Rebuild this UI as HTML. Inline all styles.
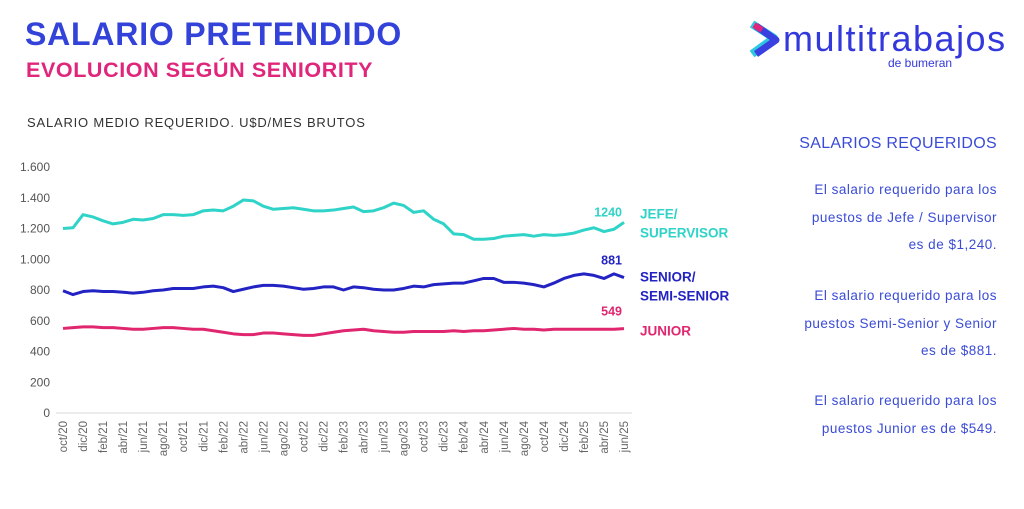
<!DOCTYPE html>
<html><head><meta charset="utf-8"><style>
body{margin:0;width:1024px;height:509px;background:#fff;overflow:hidden;font-family:"Liberation Sans",sans-serif;position:relative}
.abs{position:absolute}
.rp{position:absolute;right:27px;text-align:right;color:#3a4bd6;font-size:13.5px;line-height:27.5px;letter-spacing:0.5px;white-space:nowrap}
</style></head><body>
<div class="abs" style="left:25px;top:16px;font-size:32px;font-weight:bold;color:#3342d9;letter-spacing:0.8px">SALARIO PRETENDIDO</div>
<div class="abs" style="left:26px;top:58px;font-size:21.5px;font-weight:bold;color:#e0267a;letter-spacing:0.6px">EVOLUCION SEGÚN SENIORITY</div>
<div class="abs" style="left:27px;top:115px;font-size:13px;color:#333;letter-spacing:0.8px">SALARIO MEDIO REQUERIDO. U$D/MES BRUTOS</div>
<div class="abs" style="left:748px;top:14px;height:60px;width:276px">
<svg width="34" height="40" style="position:absolute;left:0;top:6px"><path d="M4 4 L26 18 L4 34" fill="none" stroke="#2ec9e0" stroke-width="8" stroke-linejoin="round"/><path d="M8 6 L28 20 L8 34" fill="none" stroke="#3a3fe0" stroke-width="7" stroke-linejoin="round"/><path d="M6 5 L14 10" stroke="#e0267a" stroke-width="6"/></svg>
<div style="position:absolute;left:35px;top:4px;font-size:36px;color:#3338dc;letter-spacing:1.5px">multitrabajos</div>
<div style="position:absolute;left:140px;top:42px;font-size:12px;color:#3338dc">de bumeran</div>
</div>
<div class="abs" style="right:27px;top:135px;font-size:16px;color:#3a4bd6;letter-spacing:0.3px">SALARIOS REQUERIDOS</div>
<div class="rp" style="top:176px">El salario requerido para los<br>puestos de Jefe / Supervisor<br>es de $1,240.</div>
<div class="rp" style="top:282px">El salario requerido para los<br>puestos Semi-Senior y Senior<br>es de $881.</div>
<div class="rp" style="top:387px">El salario requerido para los<br>puestos Junior es de $549.</div>
<svg id="chart" class="abs" style="left:0;top:0" width="780" height="509"></svg>
<script>
const months=["oct/20","nov/20","dic/20","ene/21","feb/21","mar/21","abr/21","may/21","jun/21","jul/21","ago/21","sep/21","oct/21","nov/21","dic/21","ene/22","feb/22","mar/22","abr/22","may/22","jun/22","jul/22","ago/22","sep/22","oct/22","nov/22","dic/22","ene/23","feb/23","mar/23","abr/23","may/23","jun/23","jul/23","ago/23","sep/23","oct/23","nov/23","dic/23","ene/24","feb/24","mar/24","abr/24","may/24","jun/24","jul/24","ago/24","sep/24","oct/24","nov/24","dic/24","ene/25","feb/25","mar/25","abr/25","may/25","jun/25"];
const jefe=[1200,1205,1290,1275,1250,1230,1240,1260,1255,1265,1290,1290,1285,1290,1315,1320,1315,1345,1385,1380,1345,1325,1330,1335,1325,1315,1315,1320,1330,1340,1310,1315,1335,1365,1350,1305,1315,1260,1230,1165,1160,1130,1130,1135,1150,1155,1160,1150,1160,1155,1160,1170,1190,1205,1180,1195,1240];
const senior=[795,770,790,795,790,790,785,780,785,795,800,810,810,810,820,825,815,790,805,820,830,830,825,815,805,810,820,820,800,820,815,805,800,800,810,825,820,835,840,845,845,860,875,875,850,850,845,835,820,845,875,895,905,895,875,905,881];
const junior=[550,555,560,560,555,555,550,545,545,550,555,555,550,545,545,535,525,515,510,510,520,520,515,510,505,505,515,525,535,540,545,535,530,525,525,530,530,530,530,535,530,535,535,540,545,550,545,545,540,545,545,545,545,545,545,545,549];
const yTicks=[0,200,400,600,800,1000,1200,1400,1600];
const tickLabels=["0","200","400","600","800","1.000","1.200","1.400","1.600"];
const svg=document.getElementById('chart');
const NS="http://www.w3.org/2000/svg";
const x0=63,x1=624,yB=413,yT=167;
const xs=i=>x0+(x1-x0)*i/(months.length-1);
const ys=v=>yB-(yB-yT)*v/1600;
function mk(t,a,txt){const e=document.createElementNS(NS,t);for(const k in a)e.setAttribute(k,a[k]);if(txt!=null)e.textContent=txt;svg.appendChild(e);return e;}
const base=mk('line',{x1:56,x2:632,y1:yB,y2:yB,stroke:'#e6e6e6','stroke-width':1.5});


yTicks.forEach((v,i)=>{const t=mk('text',{x:50,y:ys(v)+4,'text-anchor':'end','font-size':12,fill:'#555','font-family':'Liberation Sans'},tickLabels[i]);

});
months.forEach((m,i)=>{if(i%2)return;const x=xs(i);const t=mk('text',{x:0,y:0,transform:`translate(${x+4},${421}) rotate(-90)`,'text-anchor':'end','font-size':11.5,fill:'#666','font-family':'Liberation Sans'},m);

});
const series=[[jefe,'#2fd3c8','jefe-line','1240',['JEFE/','SUPERVISOR'],-6,0],[senior,'#2323c4','senior-line','881',['SENIOR/','SEMI-SENIOR'],-13,8],[junior,'#e0266f','junior-line','549',['JUNIOR'],-13,7]];
series.forEach(([d,c,n,lab,names,vo,no])=>{
const p=mk('polyline',{points:d.map((v,i)=>xs(i)+','+ys(v)).join(' '),fill:'none',stroke:c,'stroke-width':3,'stroke-linejoin':'round'});


const last=d[d.length-1];
const vl=mk('text',{x:xs(d.length-1)-2,y:ys(last)+vo,'text-anchor':'end','font-size':12.5,'font-weight':'bold',fill:c,'font-family':'Liberation Sans'},lab);


names.forEach((s,k)=>{const yy=(names.length>1?ys(last)-4+k*19:ys(last))+no;
const t=mk('text',{x:640,y:yy,'font-size':13.5,'font-weight':'bold',fill:c,'font-family':'Liberation Sans'},s);

});
});
</script>
</body></html>
